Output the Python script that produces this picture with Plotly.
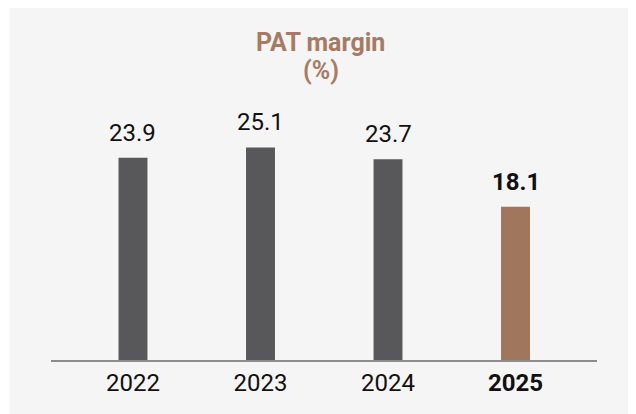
import plotly.graph_objects as go

years = ["2022", "2023", "2024", "2025"]
pat_margin = [23.9, 25.1, 23.7, 18.1]
bar_colors = ["#58585a", "#58585a", "#58585a", "#a0765d"]
label_bold = [False, False, False, True]

OFF = 8  # page body margin
W, H = 636 - OFF, 414 - OFF
ML, MR, MT, MB = 51 - OFF, 39, 106 - OFF, 54
PW, PH = W - ML - MR, H - MT - MB

def px_x(px):
    return (px - OFF - ML) / PW

def px_y(py):
    return (H - MB - (py - OFF)) / PH

x_idx = list(range(len(years)))

fig = go.Figure()
fig.add_trace(go.Bar(
    x=x_idx, y=pat_margin, width=0.227,
    marker=dict(color=bar_colors, line=dict(width=0)),
    hoverinfo="skip",
))

for i, v in enumerate(pat_margin):
    txt = f"{v:.1f}"
    if label_bold[i]:
        txt = f"<b>{txt}</b>"
    fig.add_annotation(x=i, y=v, xref="x", yref="y", text=txt, showarrow=False,
                       yanchor="bottom", yshift=9,
                       font=dict(family="Roboto", size=24, color="#111111"))

fig.add_annotation(x=px_x(320.5), y=px_y(42), xref="paper", yref="paper",
                   text="<b>PAT margin</b>", showarrow=False, yanchor="middle",
                   font=dict(family="Roboto", size=25, color="#a77b63"))
fig.add_annotation(x=px_x(320.5), y=px_y(70), xref="paper", yref="paper",
                   text="<b>(%)</b>", showarrow=False, yanchor="middle",
                   font=dict(family="Roboto", size=25, color="#a77b63"))

fig.add_shape(type="rect", xref="paper", yref="paper",
              x0=px_x(10), x1=px_x(640), y0=px_y(420), y1=px_y(7),
              fillcolor="#f5f5f5", line=dict(width=0), layer="below")

ticktext = [f"<b>{y}</b>" if b else y for y, b in zip(years, label_bold)]

fig.update_layout(
    width=W, height=H,
    margin=dict(l=ML, r=MR, t=MT, b=MB, pad=0),
    paper_bgcolor="white", plot_bgcolor="rgba(0,0,0,0)",
    showlegend=False,
    xaxis=dict(range=[-0.643, 3.639], tickvals=x_idx, ticktext=ticktext,
               showline=True, linecolor="#8c8c8c", linewidth=2,
               showgrid=False, zeroline=False, ticks="",
               tickfont=dict(family="Roboto", size=24, color="#111111"),
               fixedrange=True),
    yaxis=dict(range=[0, 30], visible=False, showgrid=False, zeroline=False,
               fixedrange=True),
)

fig.write_html("out.html")
